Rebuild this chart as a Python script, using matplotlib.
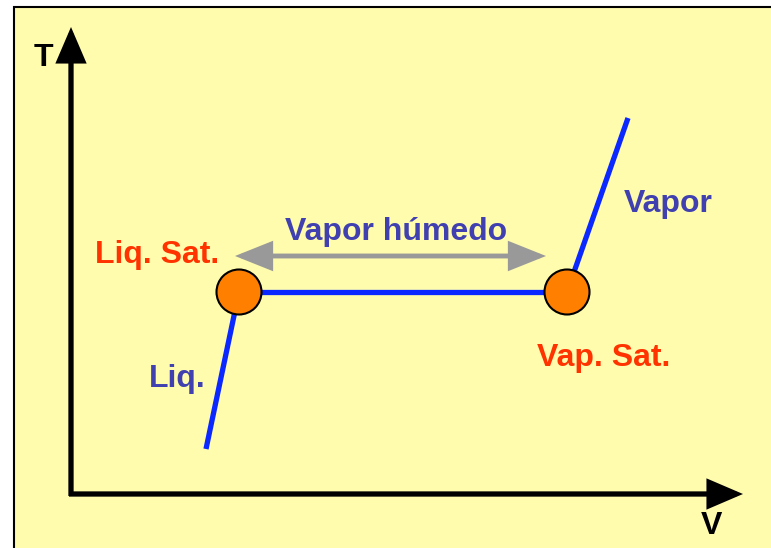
import matplotlib.pyplot as plt
from matplotlib.patches import Rectangle, Circle, FancyArrowPatch

# curve points (pixel-like units, y grows downward)
liq_v = [206, 239]
liq_t = [449, 292]
sat_v = [239, 567]
sat_t = [292, 292]
vap_v = [567, 628]
vap_t = [292, 118]
sat_points_v = [239, 567]
sat_points_t = [292, 292]

labels = ["Liq. Sat.", "Vap. Sat.", "Liq.", "Vapor", "Vapor húmedo"]
label_pos = [(157, 255), (604, 358), (177, 379), (668, 204), (396, 232)]
label_col = ["#FF3300", "#FF3300", "#4040B0", "#4040B0", "#4040B0"]

plt.rcParams['font.family'] = ['Liberation Sans', 'DejaVu Sans']

fig = plt.figure(figsize=(7.71, 5.48), dpi=100)
ax = fig.add_axes([0, 0, 1, 1])
ax.set_xlim(0, 771)
ax.set_ylim(548, 0)
ax.axis('off')

# background panel
ax.add_patch(Rectangle((14, 7), 800, 600, facecolor='#FFFCAE', edgecolor='black', lw=1.5, zorder=0))

# axes arrows
for start, end in [((71, 496), (71, 27)), ((69, 494), (743, 494))]:
    ax.add_patch(FancyArrowPatch(start, end, arrowstyle='-|>,head_length=1.4,head_width=0.6',
                                 mutation_scale=14, lw=3.8, color='black', shrinkA=0, shrinkB=0,
                                 capstyle='butt', joinstyle='miter'))
ax.text(43, 58, "T", fontsize=23, fontweight='bold', ha='center', va='center')
ax.text(711, 526, "V", fontsize=23, fontweight='bold', ha='center', va='center')

# curve
ax.plot(liq_v, liq_t, color='#0A28FF', lw=3.8, solid_capstyle='butt', zorder=2)
ax.plot(sat_v, sat_t, color='#0A28FF', lw=3.8, solid_capstyle='butt', zorder=2)
ax.plot(vap_v, vap_t, color='#0A28FF', lw=3.8, solid_capstyle='butt', zorder=2)

for v, t in zip(sat_points_v, sat_points_t):
    ax.add_patch(Circle((v, t), 22.5, facecolor='#FF8000', edgecolor='black', lw=1.5, zorder=3))

# wet vapour double arrow
ax.add_patch(FancyArrowPatch((235, 256), (546, 256), arrowstyle='<|-|>,head_length=1.5,head_width=0.6',
                             mutation_scale=14, lw=3.5, color='#999999', shrinkA=0, shrinkB=0, zorder=2,
                             capstyle='butt', joinstyle='miter'))

for s, (x, y), c in zip(labels, label_pos, label_col):
    ax.text(x, y, s, fontsize=23, fontweight='bold', color=c, ha='center', va='center')

fig.savefig('out.png', dpi=100)
